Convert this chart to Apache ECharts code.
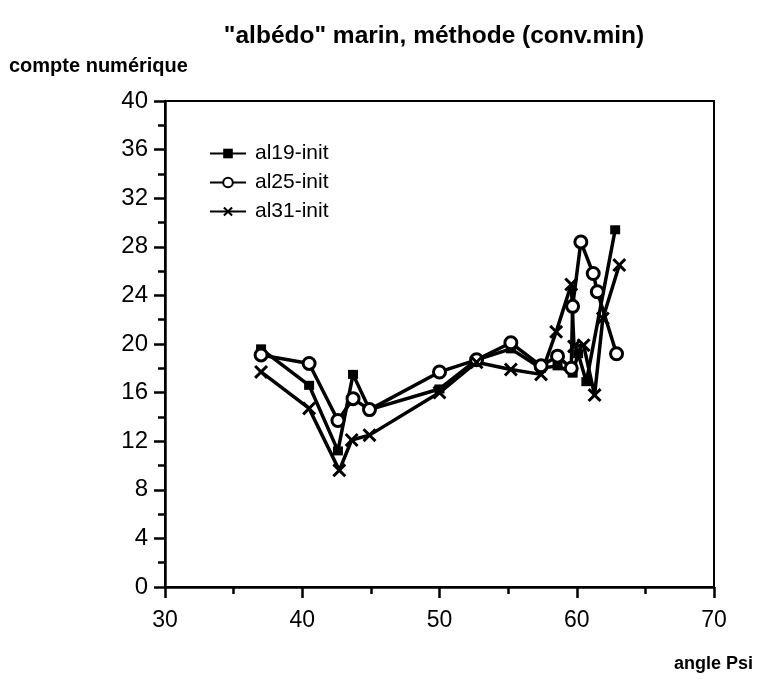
<!DOCTYPE html>
<html><head><meta charset="utf-8">
<script src="https://cdn.jsdelivr.net/npm/echarts@6/dist/echarts.min.js"></script>
<style>html,body{margin:0;padding:0;background:#fff}#c{width:760px;height:679px}</style>
</head><body><div id="c"></div>
<script>
const titleText = '"albédo" marin, méthode (conv.min)';
const yName = 'compte numérique';
const xName = 'angle Psi';
const xTicks = [30, 40, 50, 60, 70];
const yTicks = [0, 4, 8, 12, 16, 20, 24, 28, 32, 36, 40];
const seriesNames = ['al19-init', 'al25-init', 'al31-init'];

const al19 = [[37.0,19.6],[40.5,16.6],[42.6,11.2],[43.7,17.5],[44.9,14.6],[50.0,16.3],[52.7,18.7],[55.2,19.6],[57.4,18.0],[58.6,18.2],[59.7,17.6],[60.1,19.2],[60.7,16.9],[62.8,29.4]];
const al25 = [[37.0,19.1],[40.5,18.4],[42.6,13.7],[43.7,15.5],[44.9,14.6],[50.0,17.7],[52.7,18.7],[55.2,20.1],[57.4,18.2],[58.6,19.0],[59.6,18.0],[59.7,23.1],[60.3,28.4],[61.2,25.8],[61.5,24.3],[62.9,19.2]];
const al31 = [[37.0,17.7],[40.5,14.7],[42.7,9.6],[43.6,12.1],[44.9,12.5],[50.0,16.0],[52.7,18.5],[55.2,17.9],[57.4,17.5],[58.5,21.0],[59.6,24.9],[59.8,19.8],[60.5,19.9],[61.3,15.8],[61.9,22.1],[63.1,26.5]];

const X_PATH = 'path://M0,1.5L1.5,0L5,3.5L8.5,0L10,1.5L6.5,5L10,8.5L8.5,10L5,6.5L1.5,10L0,8.5L3.5,5Z';
const font = '"Liberation Sans", Arial, sans-serif';

const chart = echarts.init(document.getElementById('c'));
const lineStyle = {color:'#000', width:3.5};
chart.setOption({
  animation:false,
  backgroundColor:'#fff',
  title:[
    {text:titleText, left:429, textAlign:'center', top:19, textStyle:{fontFamily:font, fontWeight:'bold', fontSize:24.5, color:'#000'}},
    {text:yName, left:4, top:51, textStyle:{fontFamily:font, fontWeight:'bold', fontSize:20, color:'#000'}},
    {text:xName, right:2, top:650, textStyle:{fontFamily:font, fontWeight:'bold', fontSize:18, color:'#000'}}
  ],
  legend:{
    orient:'vertical', left:204, top:138, itemGap:8, itemWidth:36, itemHeight:12,
    textStyle:{fontFamily:font, fontSize:21, color:'#000', padding:[0,0,0,4]},
    data:seriesNames
  },
  grid:{left:165, right:46, top:101, bottom:92, show:true, borderColor:'#000', borderWidth:2, backgroundColor:'transparent'},
  xAxis:{
    type:'value', min:xTicks[0], max:xTicks[xTicks.length-1], interval:10,
    axisLine:{lineStyle:{color:'#000', width:2.5}},
    axisTick:{length:11, lineStyle:{color:'#000', width:2.5}},
    minorTick:{show:true, splitNumber:2, length:7, lineStyle:{color:'#000', width:2.5}},
    splitLine:{show:false},
    axisLabel:{fontFamily:font, fontSize:23, color:'#000', margin:22}
  },
  yAxis:{
    type:'value', min:yTicks[0], max:yTicks[yTicks.length-1], interval:4,
    axisLine:{show:true, lineStyle:{color:'#000', width:2.5}},
    axisTick:{show:true, length:11, lineStyle:{color:'#000', width:2.5}},
    minorTick:{show:true, splitNumber:2, length:7, lineStyle:{color:'#000', width:2.5}},
    splitLine:{show:false},
    axisLabel:{fontFamily:font, fontSize:24, color:'#000', margin:17}
  },
  series:[
    {name:seriesNames[0], type:'line', data:al19, symbol:'rect', symbolSize:[10,9], lineStyle, itemStyle:{color:'#000'}},
    {name:seriesNames[1], type:'line', data:al25, symbol:'circle', symbolSize:12, lineStyle, itemStyle:{color:'#fff', borderColor:'#000', borderWidth:3}},
    {name:seriesNames[2], type:'line', data:al31, symbol:X_PATH, symbolSize:14, lineStyle, itemStyle:{color:'#000'}}
  ]
});
</script></body></html>
